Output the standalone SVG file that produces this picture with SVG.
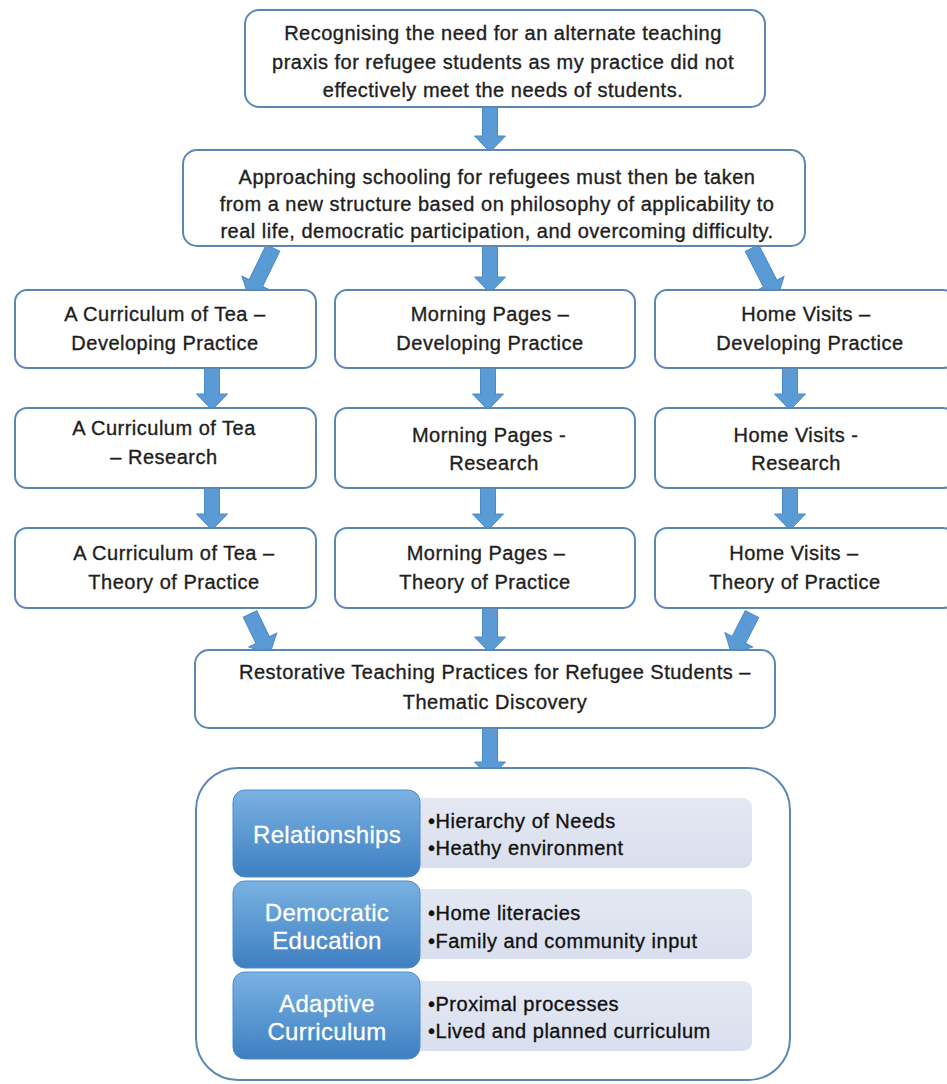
<svg xmlns="http://www.w3.org/2000/svg" width="947" height="1084" viewBox="0 0 947 1084">
<defs>
<style>
.box{fill:#ffffff;stroke:#5b87b5;stroke-width:2}
.t{font-family:"Liberation Sans",Arial,sans-serif;font-size:20px;letter-spacing:0.5px;fill:#1e1e1e;stroke:#1e1e1e;stroke-width:0.35;text-anchor:middle}
.b{font-family:"Liberation Sans",Arial,sans-serif;font-size:20px;letter-spacing:0.5px;fill:#111111;stroke:#111111;stroke-width:0.35}
.w{font-family:"Liberation Sans",Arial,sans-serif;font-size:24px;letter-spacing:0.3px;fill:#ffffff;stroke:#ffffff;stroke-width:0.3;text-anchor:middle}
.arr{fill:#5b9bd5;stroke:#4a8ac6;stroke-width:1}
.lab{fill:url(#g1);stroke:#4d8ccb;stroke-width:1}
.lt{fill:url(#g2)}
</style>
<linearGradient id="g1" x1="0" y1="0" x2="0" y2="1">
<stop offset="0" stop-color="#7ab2e2"/>
<stop offset="1" stop-color="#3e7fc2"/>
</linearGradient>
<linearGradient id="g2" x1="0" y1="0" x2="0" y2="1">
<stop offset="0" stop-color="#e4e8f3"/>
<stop offset="1" stop-color="#d9dfee"/>
</linearGradient>
</defs>
<rect width="947" height="1084" fill="#ffffff"/>

<g id="connectors">
<polygon class="arr" points="482.5,107 497.5,107 497.5,136 505.5,136 490,152 474.5,136 482.5,136"/>
<polygon class="arr" points="265.5,248 280.5,248 280.5,287 288.5,287 273,303 257.5,287 265.5,287" transform="rotate(26 273 248)"/>
<polygon class="arr" points="482.5,246 497.5,246 497.5,277 505.5,277 490,293 474.5,277 482.5,277"/>
<polygon class="arr" points="744.5,248 759.5,248 759.5,288 767.5,288 752,304 736.5,288 744.5,288" transform="rotate(-27 752 248)"/>
<polygon class="arr" points="204.5,368 219.5,368 219.5,394 227.5,394 212,410 196.5,394 204.5,394"/>
<polygon class="arr" points="204.5,488 219.5,488 219.5,514 227.5,514 212,530 196.5,514 204.5,514"/>
<polygon class="arr" points="480.5,368 495.5,368 495.5,394 503.5,394 488,410 472.5,394 480.5,394"/>
<polygon class="arr" points="480.5,488 495.5,488 495.5,514 503.5,514 488,530 472.5,514 480.5,514"/>
<polygon class="arr" points="782.5,368 797.5,368 797.5,394 805.5,394 790,410 774.5,394 782.5,394"/>
<polygon class="arr" points="782.5,488 797.5,488 797.5,514 805.5,514 790,530 774.5,514 782.5,514"/>
<polygon class="arr" points="242.5,614 257.5,614 257.5,643 265.5,643 250,659 234.5,643 242.5,643" transform="rotate(-26 250 614)"/>
<polygon class="arr" points="482.5,608 497.5,608 497.5,637 505.5,637 490,653 474.5,637 482.5,637"/>
<polygon class="arr" points="744.5,614 759.5,614 759.5,643 767.5,643 752,659 736.5,643 744.5,643" transform="rotate(27 752 614)"/>
<polygon class="arr" points="482.5,728 497.5,728 497.5,762 505.5,762 490,778 474.5,762 482.5,762"/>
</g>

<g id="n1">
<rect class="box" x="245" y="10" width="520" height="97" rx="14"/>
<text class="t" x="503" y="40">Recognising the need for an alternate teaching</text>
<text class="t" x="503" y="69">praxis for refugee students as my practice did not</text>
<text class="t" x="503" y="97">effectively meet the needs of students.</text>
</g>

<g id="n2">
<rect class="box" x="183" y="150" width="622" height="96" rx="14"/>
<text class="t" x="497" y="184">Approaching schooling for refugees must then be taken</text>
<text class="t" x="497" y="211">from a new structure based on philosophy of applicability to</text>
<text class="t" x="497" y="238">real life, democratic participation, and overcoming difficulty.</text>
</g>

<g id="n3">
<rect class="box" x="15" y="290" width="301" height="78" rx="12"/>
<text class="t" x="165" y="321">A Curriculum of Tea –</text>
<text class="t" x="165" y="350">Developing Practice</text>
</g>
<g id="n4">
<rect class="box" x="335" y="290" width="300" height="78" rx="12"/>
<text class="t" x="490" y="321">Morning Pages –</text>
<text class="t" x="490" y="350">Developing Practice</text>
</g>
<g id="n5">
<rect class="box" x="655" y="290" width="300" height="78" rx="12"/>
<text class="t" x="806" y="321">Home Visits –</text>
<text class="t" x="810" y="350">Developing Practice</text>
</g>

<g id="n6">
<rect class="box" x="15" y="408" width="301" height="80" rx="12"/>
<text class="t" x="164" y="435">A Curriculum of Tea</text>
<text class="t" x="164" y="464">– Research</text>
</g>
<g id="n7">
<rect class="box" x="335" y="408" width="300" height="80" rx="12"/>
<text class="t" x="489" y="442">Morning Pages -</text>
<text class="t" x="494" y="470">Research</text>
</g>
<g id="n8">
<rect class="box" x="655" y="408" width="300" height="80" rx="12"/>
<text class="t" x="796" y="442">Home Visits -</text>
<text class="t" x="796" y="470">Research</text>
</g>

<g id="n9">
<rect class="box" x="15" y="528" width="301" height="80" rx="12"/>
<text class="t" x="174" y="560">A Curriculum of Tea –</text>
<text class="t" x="174" y="589">Theory of Practice</text>
</g>
<g id="n10">
<rect class="box" x="335" y="528" width="300" height="80" rx="12"/>
<text class="t" x="486" y="560">Morning Pages  –</text>
<text class="t" x="485" y="589">Theory of Practice</text>
</g>
<g id="n11">
<rect class="box" x="655" y="528" width="300" height="80" rx="12"/>
<text class="t" x="794" y="560">Home Visits –</text>
<text class="t" x="795" y="589">Theory of Practice</text>
</g>

<g id="n12">
<rect class="box" x="195" y="650" width="580" height="78" rx="14"/>
<text class="t" x="495" y="679">Restorative Teaching Practices for Refugee Students –</text>
<text class="t" x="495" y="709">Thematic Discovery</text>
</g>

<g id="n13">
<rect class="box" x="196" y="768" width="594" height="312" rx="42"/>
<g id="r1">
<rect class="lt" x="405" y="798" width="347" height="70" rx="9"/>
<rect class="lab" x="233" y="790" width="187" height="87" rx="12"/>
<text class="w" x="327" y="843">Relationships</text>
<text class="b" x="428" y="828">•Hierarchy of Needs</text>
<text class="b" x="428" y="855">•Heathy environment</text>
</g>
<g id="r2">
<rect class="lt" x="405" y="889" width="347" height="70" rx="9"/>
<rect class="lab" x="233" y="881" width="187" height="87" rx="12"/>
<text class="w" x="327" y="921">Democratic</text>
<text class="w" x="327" y="949">Education</text>
<text class="b" x="428" y="920">•Home literacies</text>
<text class="b" x="428" y="948">•Family and community input</text>
</g>
<g id="r3">
<rect class="lt" x="405" y="981" width="347" height="70" rx="9"/>
<rect class="lab" x="233" y="972" width="187" height="87" rx="12"/>
<text class="w" x="327" y="1012">Adaptive</text>
<text class="w" x="327" y="1040">Curriculum</text>
<text class="b" x="428" y="1011">•Proximal processes</text>
<text class="b" x="428" y="1038">•Lived and planned curriculum</text>
</g>
</g>
</svg>
